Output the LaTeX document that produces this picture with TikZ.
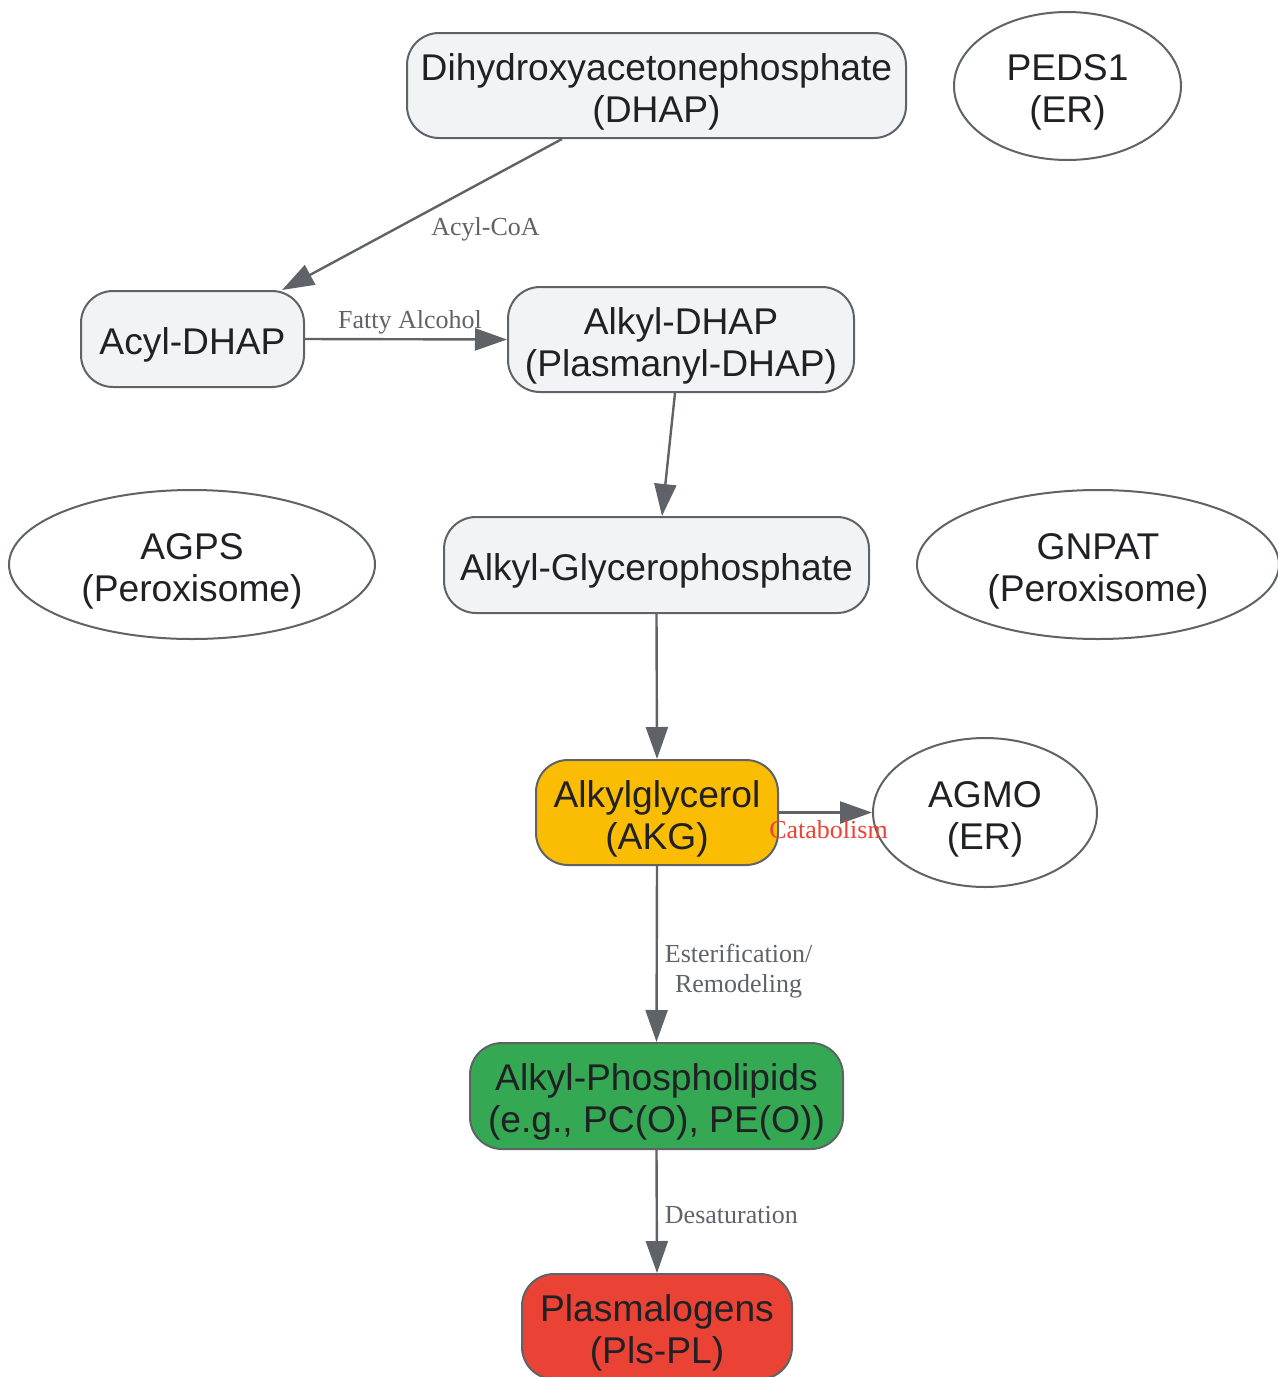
\documentclass[tikz,border=0pt]{standalone}
\usepackage{fontspec}
\setmainfont{Liberation Serif}
\setsansfont{Liberation Sans}
\usepackage{tikz}
\usetikzlibrary{positioning}
\usetikzlibrary{arrows.meta}
\usetikzlibrary{shapes.geometric}

\definecolor{linegray}{HTML}{5F6368}
\definecolor{boxgray}{HTML}{F1F3F4}
\definecolor{textdark}{HTML}{202124}
\definecolor{akgyellow}{HTML}{FBBC04}
\definecolor{plgreen}{HTML}{34A853}
\definecolor{plsred}{HTML}{EA4335}

% lowers the text a little inside its box
\newcommand{\toppad}{\rule{0pt}{19.7pt}}

\begin{document}
\begin{tikzpicture}[x=0.5pt,y=-0.5pt,
metabnode/.style={rectangle, rounded corners=16pt, draw=linegray, fill=boxgray, line width=1pt, align=center, text=textdark, inner sep=0pt, font=\sffamily\fontsize{18.6}{21}\selectfont},
enzymenode/.style={ellipse, draw=linegray, fill=white, line width=1pt, align=center, text=textdark, inner sep=0pt, font=\sffamily\fontsize{18.6}{21}\selectfont},
pathline/.style={draw=linegray, line width=1.2pt, -{Triangle[length=16pt,width=11pt]}},
steplabel/.style={font=\fontsize{13}{15}\selectfont, text=linegray, align=center, inner sep=2pt},
]
\useasboundingbox (0,0) rectangle (1278,1377);

%Nodes
\node[metabnode, minimum width=249.5pt, minimum height=52.5pt] (dhap)      at (656.5,85.5)  {\toppad Dihydroxyacetonephosphate\\(DHAP)};
\node[enzymenode, minimum width=113.5pt, minimum height=74pt]  (peds)      at (1067.5,86)   {\toppad PEDS1\\(ER)};
\node[metabnode, minimum width=111.5pt, minimum height=48pt]   (acyldhap)  at (192.5,339)   {\toppad Acyl-DHAP};
\node[metabnode, minimum width=173pt, minimum height=52.5pt]   (alkyldhap) at (681,339.5)   {\toppad Alkyl-DHAP\\(Plasmanyl-DHAP)};
\node[enzymenode, minimum width=183pt, minimum height=74.5pt]  (agps)      at (192,564.5)   {\toppad AGPS\\(Peroxisome)};
\node[metabnode, minimum width=212.5pt, minimum height=48pt]   (alkylgp)   at (656.5,565)   {\toppad Alkyl-Glycerophosphate};
\node[enzymenode, minimum width=181pt, minimum height=74.5pt]  (gnpat)     at (1098,564.5)  {\toppad GNPAT\\(Peroxisome)};
\node[metabnode, fill=akgyellow, minimum width=121pt, minimum height=52.5pt] (akg) at (657,812.5) {\toppad Alkylglycerol\\(AKG)};
\node[enzymenode, minimum width=112pt, minimum height=74.5pt]  (agmo)      at (985,812.5)   {\toppad AGMO\\(ER)};
\node[metabnode, fill=plgreen, minimum width=186.5pt, minimum height=53pt] (alkylpl) at (656.5,1096) {\toppad Alkyl-Phospholipids\\(e.g., PC(O), PE(O))};
\node[metabnode, fill=plsred, minimum width=135pt, minimum height=52.5pt] (plasm) at (657,1326.5) {\toppad Plasmalogens\\(Pls-PL)};

%Lines
\draw[pathline] ([xshift=-47.25pt]dhap.south) -- ([xshift=44.75pt]acyldhap.north)
  node[steplabel, pos=0.46, anchor=north west, xshift=-3.5pt, yshift=-2pt] {Acyl-CoA};
\draw[pathline] (acyldhap.east) -- (alkyldhap.west)
  node[steplabel, midway, above, xshift=2pt] {Fatty Alcohol};
\draw[pathline] ([xshift=-3pt]alkyldhap.south) -- ([xshift=2.75pt]alkylgp.north);
\draw[pathline] (alkylgp.south) -- (akg.north);
\draw[pathline] (akg.east) -- (agmo.west)
  node[steplabel, text=plsred, midway, below, inner sep=0.5pt, xshift=1.5pt, yshift=-3pt] {Catabolism};
\draw[pathline] (akg.south) -- (alkylpl.north)
  node[steplabel, pos=0.58, right, xshift=1.5pt, yshift=-1.5pt] {Esterification/\\Remodeling};
\draw[pathline] (alkylpl.south) -- (plasm.north)
  node[steplabel, pos=0.53, right, xshift=1.5pt] {Desaturation};
\end{tikzpicture}
\end{document}
